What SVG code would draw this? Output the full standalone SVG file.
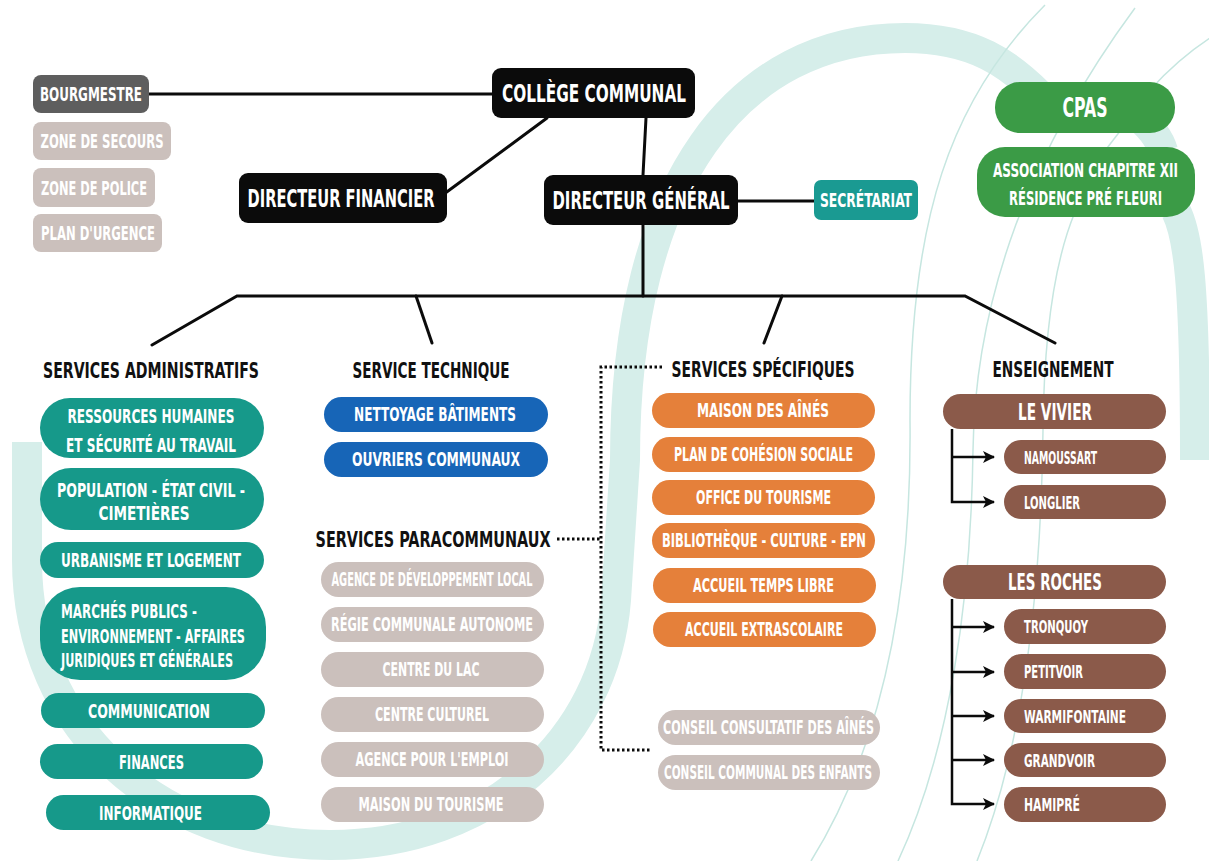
<svg xmlns="http://www.w3.org/2000/svg" width="1209" height="861" viewBox="0 0 1209 861">
<defs>
<style>
.t{font-family:"Liberation Sans Narrow","DejaVu Sans Condensed","DejaVu Sans",sans-serif;font-stretch:condensed;font-weight:bold;fill:#fff;font-size:20px}
.c{text-anchor:middle}
.h{fill:#111;font-size:22px}
.big{font-size:25px}
.sm{font-size:19px}
.xs{font-size:18.5px}
.mid{font-size:23px}
.tall{font-size:14.5px}
.blk{fill:#0b0b0b}
.grey{fill:#5e5e5e}
.taupe{fill:#cbc0bc}
.teal{fill:#16998a}
.sec{fill:#1a9a92}
.blue{fill:#1765b7}
.orange{fill:#e5803a}
.brown{fill:#8b5a4a}
.green{fill:#3b9b46}
.ln{stroke:#0b0b0b;stroke-width:3;fill:none;stroke-linecap:round}
.dot{stroke:#0b0b0b;stroke-width:3;fill:none;stroke-dasharray:2.5 2.5}
.arr{stroke:#0b0b0b;stroke-width:2.5;fill:none;marker-end:url(#ah)}
.bg{stroke:#d6eeea;stroke-width:30;fill:none}
.thin{stroke:#c6e6e0;stroke-width:1.5;fill:none}
</style>
<marker id="ah" markerUnits="userSpaceOnUse" markerWidth="14" markerHeight="14" refX="12" refY="7" orient="auto">
<path d="M1,1 L13,7 L1,13 L4,7 z" fill="#0b0b0b"/>
</marker>
</defs>
<rect x="0" y="0" width="1209" height="861" fill="#ffffff"/>
<g id="background">
<path class="bg" d="M 27 442 L 27 560 C 27 730 160 845 330 845 C 490 845 605 740 616 600 L 625 460 C 625 180 740 38 905 38 C 975 38 1010 65 1040 95"/>
<path class="bg" d="M 1135 114 C 1152 128 1160 140 1163 151"/>
<path class="bg" d="M 1176 211 C 1188 235 1195 280 1195 460"/>
<path class="thin" d="M 1045 5 C 950 100 910 220 910 420 C 912 600 880 750 811 861"/>
<path class="thin" d="M 1135 8 C 1030 150 975 300 973 450 C 971 600 950 750 898 861"/>
<path class="thin" d="M 1218 33 C 1190 50 1170 68 1150 90"/>
<path class="thin" d="M 1124 126 L 1104 152"/>
<path class="thin" d="M 1075 212 C 1055 260 1044 330 1043 430 C 1041 600 1022 750 977 861"/>
</g>
<g id="connectors">
<line class="ln" x1="149" y1="94" x2="492" y2="94"/>
<line class="ln" x1="547" y1="118" x2="444" y2="194"/>
<line class="ln" x1="646" y1="118" x2="643" y2="175"/>
<line class="ln" x1="738" y1="201" x2="814" y2="201"/>
<line class="ln" x1="643" y1="225" x2="643" y2="296"/>
<polyline class="ln" points="152,345 237,296 965,296 1055,343"/>
<line class="ln" x1="416" y1="296" x2="432" y2="343"/>
<line class="ln" x1="782" y1="296" x2="764" y2="343"/>
<path class="dot" d="M 557 539 H 601 M 662 367 H 601 V 750 H 651"/>
<path class="arr" d="M 952 429 V 502 H 994"/>
<path class="arr" d="M 952 457 H 994"/>
<path class="arr" d="M 952 599 V 804 H 994"/>
<path class="arr" d="M 952 627 H 994"/>
<path class="arr" d="M 952 672 H 994"/>
<path class="arr" d="M 952 716 H 994"/>
<path class="arr" d="M 952 760 H 994"/>
</g>
<g id="bourgmestre"><rect class="grey" x="33" y="75" width="116" height="38" rx="8"/><text class="t c sm" x="91" y="101" textLength="102" lengthAdjust="spacingAndGlyphs">BOURGMESTRE</text></g>
<g id="zone-secours"><rect class="taupe" x="33" y="122" width="138" height="38" rx="8"/><text class="t c sm" x="102" y="148" textLength="123" lengthAdjust="spacingAndGlyphs">ZONE DE SECOURS</text></g>
<g id="zone-police"><rect class="taupe" x="33" y="168" width="122" height="39" rx="8"/><text class="t c sm" x="94" y="195" textLength="106" lengthAdjust="spacingAndGlyphs">ZONE DE POLICE</text></g>
<g id="plan-urgence"><rect class="taupe" x="33" y="214" width="129" height="38" rx="8"/><text class="t c sm" x="98" y="240" textLength="114" lengthAdjust="spacingAndGlyphs">PLAN D'URGENCE</text></g>
<g id="college"><rect class="blk" x="492" y="68" width="203" height="50" rx="9"/><text class="t c big" x="594" y="102" textLength="184" lengthAdjust="spacingAndGlyphs">COLLÈGE COMMUNAL</text></g>
<g id="dir-fin"><rect class="blk" x="239" y="173" width="208" height="50" rx="9"/><text class="t c big" x="341" y="207" textLength="187" lengthAdjust="spacingAndGlyphs">DIRECTEUR FINANCIER</text></g>
<g id="dir-gen"><rect class="blk" x="544" y="175" width="194" height="50" rx="9"/><text class="t c big" x="641" y="209" textLength="177" lengthAdjust="spacingAndGlyphs">DIRECTEUR GÉNÉRAL</text></g>
<g id="secretariat"><rect class="sec" x="814" y="180" width="104" height="40" rx="7"/><text class="t c sm" x="866" y="207" textLength="92" lengthAdjust="spacingAndGlyphs">SECRÉTARIAT</text></g>
<g id="cpas"><rect class="green" x="995" y="82" width="180" height="51" rx="25"/><text class="t c" style="font-size:26px" x="1085" y="117" textLength="45" lengthAdjust="spacingAndGlyphs">CPAS</text></g>
<g id="association"><rect class="green" x="977" y="147" width="218" height="70" rx="28"/>
<text class="t c tall" transform="translate(1085.5,177) scale(1,1.4)" x="0" y="0" textLength="185" lengthAdjust="spacingAndGlyphs">ASSOCIATION CHAPITRE XII</text>
<text class="t c tall" transform="translate(1085.5,205) scale(1,1.4)" x="0" y="0" textLength="153" lengthAdjust="spacingAndGlyphs">RÉSIDENCE PRÉ FLEURI</text></g>
<g id="h-admin"><text class="t c h" x="151" y="378" textLength="216" lengthAdjust="spacingAndGlyphs">SERVICES ADMINISTRATIFS</text></g>
<g id="h-tech"><text class="t c h" x="431" y="378" textLength="157" lengthAdjust="spacingAndGlyphs">SERVICE TECHNIQUE</text></g>
<g id="h-spec"><text class="t c h" x="763" y="377" textLength="183" lengthAdjust="spacingAndGlyphs">SERVICES SPÉCIFIQUES</text></g>
<g id="h-ens"><text class="t c h" x="1053" y="377" textLength="121" lengthAdjust="spacingAndGlyphs">ENSEIGNEMENT</text></g>
<g id="h-para"><text class="t c h" x="433" y="547" textLength="235" lengthAdjust="spacingAndGlyphs">SERVICES PARACOMMUNAUX</text></g>
<g id="rh"><rect class="teal" x="40" y="398" width="224" height="60" rx="30"/><text class="t c" x="151" y="423" textLength="167" lengthAdjust="spacingAndGlyphs">RESSOURCES HUMAINES</text><text class="t c" x="151" y="452" textLength="170" lengthAdjust="spacingAndGlyphs">ET SÉCURITÉ AU TRAVAIL</text></g>
<g id="population"><rect class="teal" x="40" y="468" width="224" height="62" rx="31"/><text class="t c" x="151" y="497" textLength="188" lengthAdjust="spacingAndGlyphs">POPULATION - ÉTAT CIVIL -</text><text class="t c" x="144" y="520" textLength="91" lengthAdjust="spacingAndGlyphs">CIMETIÈRES</text></g>
<g id="urbanisme"><rect class="teal" x="40" y="542" width="224" height="36" rx="18"/><text class="t c" x="151" y="567" textLength="180" lengthAdjust="spacingAndGlyphs">URBANISME ET LOGEMENT</text></g>
<g id="marches"><rect class="teal" x="40" y="587" width="226" height="93" rx="40"/><text class="t" x="61" y="618" textLength="136" lengthAdjust="spacingAndGlyphs">MARCHÉS PUBLICS -</text><text class="t" x="61" y="643" textLength="184" lengthAdjust="spacingAndGlyphs">ENVIRONNEMENT - AFFAIRES</text><text class="t" x="61" y="667" textLength="172" lengthAdjust="spacingAndGlyphs">JURIDIQUES ET GÉNÉRALES</text></g>
<g id="communication"><rect class="teal" x="41" y="693" width="224" height="35" rx="17.5"/><text class="t c" x="149" y="718" textLength="122" lengthAdjust="spacingAndGlyphs">COMMUNICATION</text></g>
<g id="finances"><rect class="teal" x="40" y="744" width="223" height="35" rx="17.5"/><text class="t c" x="151.5" y="769" textLength="65" lengthAdjust="spacingAndGlyphs">FINANCES</text></g>
<g id="informatique"><rect class="teal" x="46" y="795" width="224" height="35" rx="17.5"/><text class="t c" x="150.5" y="820" textLength="103" lengthAdjust="spacingAndGlyphs">INFORMATIQUE</text></g>
<g id="nettoyage"><rect class="blue" x="324" y="397" width="224" height="35" rx="17.5"/><text class="t c" x="435" y="421" textLength="162" lengthAdjust="spacingAndGlyphs">NETTOYAGE BÂTIMENTS</text></g>
<g id="ouvriers"><rect class="blue" x="324" y="442" width="224" height="35" rx="17.5"/><text class="t c" x="436" y="466" textLength="168" lengthAdjust="spacingAndGlyphs">OUVRIERS COMMUNAUX</text></g>
<g id="adl"><rect class="taupe" x="321" y="562" width="223" height="35" rx="17.5"/><text class="t c sm" x="432" y="586" textLength="201" lengthAdjust="spacingAndGlyphs">AGENCE DE DÉVELOPPEMENT LOCAL</text></g>
<g id="regie"><rect class="taupe" x="321" y="607" width="223" height="35" rx="17.5"/><text class="t c sm" x="432" y="631" textLength="202" lengthAdjust="spacingAndGlyphs">RÉGIE COMMUNALE AUTONOME</text></g>
<g id="lac"><rect class="taupe" x="321" y="652" width="223" height="35" rx="17.5"/><text class="t c sm" x="431" y="676" textLength="97" lengthAdjust="spacingAndGlyphs">CENTRE DU LAC</text></g>
<g id="culturel"><rect class="taupe" x="321" y="697" width="223" height="35" rx="17.5"/><text class="t c sm" x="432" y="721" textLength="114" lengthAdjust="spacingAndGlyphs">CENTRE CULTUREL</text></g>
<g id="emploi"><rect class="taupe" x="321" y="742" width="223" height="35" rx="17.5"/><text class="t c sm" x="432" y="766" textLength="153" lengthAdjust="spacingAndGlyphs">AGENCE POUR L'EMPLOI</text></g>
<g id="maison-tourisme"><rect class="taupe" x="321" y="787" width="223" height="35" rx="17.5"/><text class="t c sm" x="431" y="811" textLength="145" lengthAdjust="spacingAndGlyphs">MAISON DU TOURISME</text></g>
<g id="aines"><rect class="orange" x="652" y="393" width="223" height="35" rx="17.5"/><text class="t c" x="763" y="417" textLength="132" lengthAdjust="spacingAndGlyphs">MAISON DES AÎNÉS</text></g>
<g id="pcs"><rect class="orange" x="652" y="437" width="223" height="35" rx="17.5"/><text class="t c" x="763.5" y="461" textLength="179" lengthAdjust="spacingAndGlyphs">PLAN DE COHÉSION SOCIALE</text></g>
<g id="office"><rect class="orange" x="652" y="480" width="223" height="35" rx="17.5"/><text class="t c" x="763.5" y="504" textLength="135" lengthAdjust="spacingAndGlyphs">OFFICE DU TOURISME</text></g>
<g id="biblio"><rect class="orange" x="652" y="523" width="223" height="35" rx="17.5"/><text class="t c" x="764" y="547" textLength="204" lengthAdjust="spacingAndGlyphs">BIBLIOTHÈQUE - CULTURE - EPN</text></g>
<g id="atl"><rect class="orange" x="653" y="568" width="223" height="35" rx="17.5"/><text class="t c" x="763.5" y="592" textLength="141" lengthAdjust="spacingAndGlyphs">ACCUEIL TEMPS LIBRE</text></g>
<g id="extrascolaire"><rect class="orange" x="653" y="612" width="223" height="35" rx="17.5"/><text class="t c" x="764" y="636" textLength="158" lengthAdjust="spacingAndGlyphs">ACCUEIL EXTRASCOLAIRE</text></g>
<g id="cca"><rect class="taupe" x="658" y="710" width="222" height="35" rx="17.5"/><text class="t c sm" x="768.5" y="734" textLength="211" lengthAdjust="spacingAndGlyphs">CONSEIL CONSULTATIF DES AÎNÉS</text></g>
<g id="cce"><rect class="taupe" x="658" y="755" width="222" height="35" rx="17.5"/><text class="t c sm" x="768" y="779" textLength="208" lengthAdjust="spacingAndGlyphs">CONSEIL COMMUNAL DES ENFANTS</text></g>
<g id="vivier"><rect class="brown" x="943" y="394" width="223" height="35" rx="17.5"/><text class="t c mid" x="1055" y="420" textLength="74" lengthAdjust="spacingAndGlyphs">LE VIVIER</text></g>
<g id="namoussart"><rect class="brown" x="1004" y="440" width="162" height="34" rx="17"/><text class="t xs" x="1024" y="464" textLength="73" lengthAdjust="spacingAndGlyphs">NAMOUSSART</text></g>
<g id="longlier"><rect class="brown" x="1004" y="485" width="162" height="34" rx="17"/><text class="t xs" x="1024" y="509" textLength="56" lengthAdjust="spacingAndGlyphs">LONGLIER</text></g>
<g id="roches"><rect class="brown" x="943" y="565" width="223" height="34" rx="17"/><text class="t c mid" x="1055" y="590" textLength="94" lengthAdjust="spacingAndGlyphs">LES ROCHES</text></g>
<g id="tronquoy"><rect class="brown" x="1004" y="609" width="162" height="35" rx="17.5"/><text class="t xs" x="1024" y="633" textLength="64" lengthAdjust="spacingAndGlyphs">TRONQUOY</text></g>
<g id="petitvoir"><rect class="brown" x="1004" y="654" width="162" height="35" rx="17.5"/><text class="t xs" x="1024" y="678" textLength="59" lengthAdjust="spacingAndGlyphs">PETITVOIR</text></g>
<g id="warmifontaine"><rect class="brown" x="1004" y="699" width="162" height="34" rx="17"/><text class="t xs" x="1024" y="723" textLength="102" lengthAdjust="spacingAndGlyphs">WARMIFONTAINE</text></g>
<g id="grandvoir"><rect class="brown" x="1004" y="743" width="162" height="34" rx="17"/><text class="t xs" x="1024" y="767" textLength="71" lengthAdjust="spacingAndGlyphs">GRANDVOIR</text></g>
<g id="hamipre"><rect class="brown" x="1004" y="787" width="162" height="35" rx="17.5"/><text class="t xs" x="1024" y="811" textLength="56" lengthAdjust="spacingAndGlyphs">HAMIPRÉ</text></g>
</svg>
